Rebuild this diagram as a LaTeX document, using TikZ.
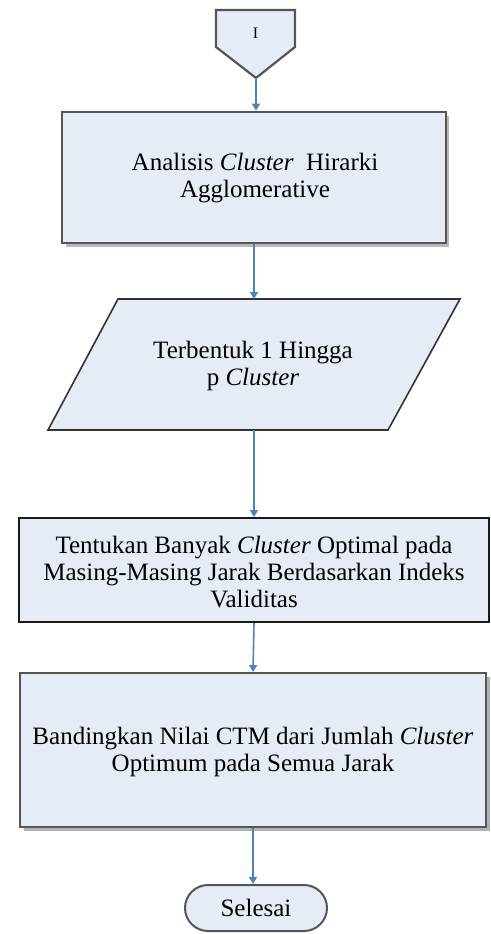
\documentclass[tikz,border=0pt]{standalone}
\usepackage{fontspec}
\setmainfont{Liberation Serif}
\usetikzlibrary{arrows.meta}
\definecolor{boxfill}{RGB}{230,236,246}
\definecolor{flowblue}{RGB}{79,129,189}
\definecolor{edgegray}{RGB}{85,85,85}
\begin{document}
\begin{tikzpicture}[x=1pt,y=-1pt,
  txt/.style={font=\fontsize{25}{27}\selectfont, align=center, inner sep=0pt},
  procbox/.style={draw=edgegray, fill=boxfill, line width=2pt, inner sep=0pt},
  flow/.style={draw=flowblue, line width=1.6pt, -{Triangle[width=8pt,length=7pt]}}]
\useasboundingbox (0,0) rectangle (490,934);

% off-page connector
\draw[draw=edgegray, fill=boxfill, line width=2.2pt, line join=miter]
  (216,10) -- (295,10) -- (295,47) -- (256,78) -- (216,47) -- cycle;
\coordinate (offtip) at (256,78);
\node[font=\fontsize{16}{18}\selectfont, inner sep=0pt] (offlbl) at (255.5,33) {I};

% step 1
\fill[gray!55] (66,116) rectangle (449,247);
\node[procbox, line width=2.6pt, minimum width=384pt, minimum height=131pt] (analisis) at (254,177.5) {};
\node[txt] (analisisT) at (255,178) {Analisis \textit{Cluster}\enspace Hirarki\\Agglomerative};

% step 2: data parallelogram
\draw[draw=black!80, fill=boxfill, line width=1.6pt]
  (118,299) -- (460,299) -- (388,430) -- (48,430) -- cycle;
\coordinate (paraN) at (254,299);
\coordinate (paraS) at (254,430);
\node[txt] (terbentuk) at (253,366) {Terbentuk 1 Hingga\\p \textit{Cluster}};

% step 3
\node[procbox, draw=black!90, line width=2pt, minimum width=470pt, minimum height=104pt] (tentukan) at (254,570) {};
\node[txt] (tentukanT) at (254,572) {Tentukan Banyak \textit{Cluster} Optimal pada\\Masing-Masing Jarak Berdasarkan Indeks\\Validitas};

% step 4
\fill[gray!60] (24,677) rectangle (490,831);
\node[procbox, line width=2pt, minimum width=466pt, minimum height=154pt] (bandingkan) at (253,750) {};
\node[txt] (bandingkanT) at (253,752) {Bandingkan Nilai CTM dari Jumlah \textit{Cluster}\\Optimum pada Semua Jarak};

% terminator
\node[draw=edgegray, fill=boxfill, line width=2pt, rounded corners=23pt,
  minimum width=142pt, minimum height=46pt, inner sep=0pt,
  font=\fontsize{25}{27}\selectfont] (selesai) at (256,908) {Selesai};

% connectors
\draw[flow] (offtip) -- (offtip |- analisis.north);
\draw[flow] (analisis.south) -- (paraN);
\draw[flow] (paraS) -- (tentukan.north);
\draw[flow] (tentukan.south) -- (bandingkan.north);
\draw[flow] (bandingkan.south) -- (bandingkan.south |- selesai.north);
\end{tikzpicture}
\end{document}
